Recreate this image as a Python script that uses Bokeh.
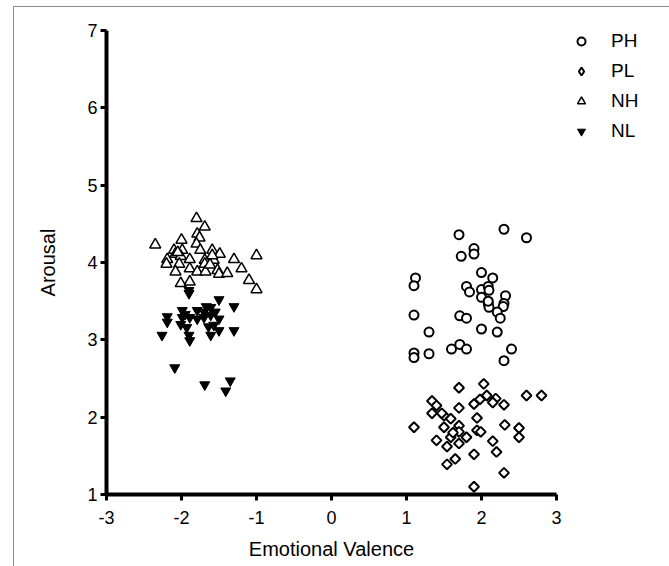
import math
from bokeh.plotting import figure
from bokeh.models import Legend, LegendItem, FixedTicker, LinearAxis
from bokeh.embed import file_html
from bokeh.resources import INLINE

# ---- data ----
ph_x = [1.70, 2.30, 2.60, 1.90, 1.90, 1.73, 1.12, 1.10, 2.00, 2.15, 1.80, 1.84, 2.00,
        2.09, 2.10, 2.00, 2.32, 2.09, 2.10, 2.30, 2.29, 2.21, 2.25, 1.10, 1.71, 1.80,
        1.30, 2.00, 2.21, 1.10, 1.10, 1.30, 1.60, 1.71, 1.80, 2.40, 2.30, 2.09]
ph_y = [4.36, 4.43, 4.32, 4.18, 4.11, 4.08, 3.80, 3.70, 3.87, 3.80, 3.69, 3.62, 3.65,
        3.69, 3.64, 3.55, 3.57, 3.47, 3.42, 3.47, 3.43, 3.36, 3.28, 3.32, 3.31, 3.28,
        3.10, 3.14, 3.10, 2.83, 2.77, 2.82, 2.88, 2.94, 2.88, 2.88, 2.73, 3.50]

pl_x = [1.70, 2.03, 2.07, 2.19, 2.15, 2.30, 1.98, 1.90, 2.60, 2.80, 1.34, 1.40, 1.34,
        1.50, 1.70, 1.59, 1.94, 1.10, 1.50, 1.70, 1.70, 1.94, 1.99, 2.31, 2.50, 2.50,
        1.40, 1.59, 1.80, 1.54, 1.70, 2.15, 1.90, 2.20, 1.65, 1.54, 2.30, 1.90, 1.62, 1.47]
pl_y = [2.38, 2.43, 2.28, 2.24, 2.19, 2.16, 2.23, 2.17, 2.28, 2.28, 2.21, 2.15, 2.05,
        2.02, 2.12, 1.98, 1.99, 1.87, 1.87, 1.89, 1.81, 1.83, 1.81, 1.90, 1.86, 1.74,
        1.70, 1.74, 1.74, 1.62, 1.66, 1.69, 1.52, 1.55, 1.46, 1.39, 1.28, 1.10, 1.80, 2.05]

nh_x = [-1.80, -1.69, -2.35, -2.00, -1.79, -1.76, -1.80, -2.10, -2.08, -1.99, -1.75,
        -1.59, -1.49, -2.19, -2.20, -2.01, -1.89, -1.69, -1.57, -1.30, -1.00, -2.03,
        -1.69, -1.89, -2.08, -1.79, -1.68, -1.52, -1.50, -1.39, -1.20, -2.01, -1.89,
        -1.10, -1.00, -1.59, -2.05, -1.62]
nh_y = [4.57, 4.46, 4.23, 4.29, 4.37, 4.32, 4.24, 4.16, 4.11, 4.16, 4.16,
        4.16, 4.11, 4.04, 3.98, 4.08, 4.04, 4.03, 4.03, 4.04, 4.09, 3.98,
        3.98, 3.92, 3.88, 3.88, 3.88, 3.90, 3.85, 3.86, 3.92, 3.73, 3.75,
        3.77, 3.65, 4.09, 4.13, 3.97]

nl_x = [-1.90, -1.90, -1.50, -1.30, -1.99, -1.79, -1.67, -1.61, -2.19, -2.19, -1.99,
        -1.89, -1.79, -1.70, -1.61, -1.50, -2.01, -1.93, -1.64, -1.57, -1.50, -1.30,
        -2.26, -1.90, -1.89, -1.61, -2.09, -1.69, -1.35, -1.41, -1.70, -1.95, -1.55]
nl_y = [3.64, 3.60, 3.52, 3.43, 3.38, 3.38, 3.43, 3.42, 3.30, 3.23, 3.29,
        3.29, 3.27, 3.29, 3.32, 3.27, 3.20, 3.16, 3.17, 3.19, 3.12, 3.12,
        3.06, 3.06, 2.99, 3.06, 2.64, 2.42, 2.47, 2.34, 3.36, 3.33, 3.36]

x_ticks = [-3, -2, -1, 0, 1, 2, 3]
x_tick_labels = ["-3", "-2", "-1", "0", "1", "2", "3"]
y_ticks = [1, 2, 3, 4, 5, 6, 7]
y_tick_labels = ["1", "2", "3", "4", "5", "6", "7"]
series_labels = ["PH", "PL", "NH", "NL"]

FONT = "Liberation Sans"

p = figure(frame_width=450, frame_height=464,
           x_range=(x_ticks[0], x_ticks[-1]), y_range=(y_ticks[0], y_ticks[-1]),
           x_axis_location=None, y_axis_location=None,
           output_backend="svg", toolbar_location=None,
           min_border_left=92, min_border_right=111,
           min_border_top=23, min_border_bottom=72)
p.styles = {"margin-left": "13px", "margin-top": "6px",
            "border-left": "1px solid #8c8c8c", "border-top": "1px solid #8c8c8c",
            "border-right": "1px solid #8c8c8c"}
p.outline_line_color = None
p.grid.visible = False
p.background_fill_color = "white"
p.border_fill_color = "white"

common = dict(
    axis_line_width=4, axis_line_color="black",
    major_tick_line_width=3, major_tick_line_color="black",
    major_tick_out=6, major_tick_in=0, minor_tick_line_color=None,
    major_label_text_font=FONT, major_label_text_font_size="18px",
    major_label_text_color="black",
    axis_label_text_font=FONT, axis_label_text_font_size="20px",
    axis_label_text_font_style="normal", axis_label_text_color="black",
)
xaxis = LinearAxis(ticker=FixedTicker(ticks=x_ticks),
                   major_label_overrides=dict(zip(x_ticks, x_tick_labels)),
                   axis_label="Emotional Valence",
                   major_label_standoff=10, axis_label_standoff=11, **common)
yaxis = LinearAxis(ticker=FixedTicker(ticks=y_ticks),
                   major_label_overrides=dict(zip(y_ticks, y_tick_labels)),
                   axis_label="Arousal",
                   major_label_standoff=3, axis_label_standoff=25, **common)
p.add_layout(xaxis, "below")
p.add_layout(yaxis, "left")

r_ph = p.scatter(ph_x, ph_y, marker="circle", size=9, fill_color="white",
                 line_color="black", line_width=2)
r_pl = p.scatter(pl_x, pl_y, marker="square", size=7, angle=math.pi / 4,
                 fill_color="white", line_color="black", line_width=2)
r_nh = p.scatter(nh_x, nh_y, marker="triangle", size=11, fill_color="white",
                 line_color="black", line_width=1.5)
r_nl = p.scatter(nl_x, nl_y, marker="inverted_triangle", size=10,
                 fill_color="black", line_color="black", line_width=1)
# hidden twin of PL, used only to draw a diamond key in the legend
r_pl_key = p.scatter(pl_x, pl_y, marker="diamond", size=10, fill_color="white",
                     line_color="black", line_width=2, visible=False)

legend = Legend(
    items=[LegendItem(label=lab, renderers=[r]) for lab, r in
           zip(series_labels, [r_ph, r_pl_key, r_nh, r_nl])],
    location="top_left", orientation="vertical",
    border_line_color=None, background_fill_alpha=0,
    padding=1, margin=0, glyph_width=50, glyph_height=20,
    label_standoff=5, spacing=8, label_height=20,
    label_text_font=FONT, label_text_font_size="19px",
    label_text_color="black", inactive_fill_alpha=0,
)
p.add_layout(legend, "right")

open("out.html", "w").write(file_html(p, INLINE))
